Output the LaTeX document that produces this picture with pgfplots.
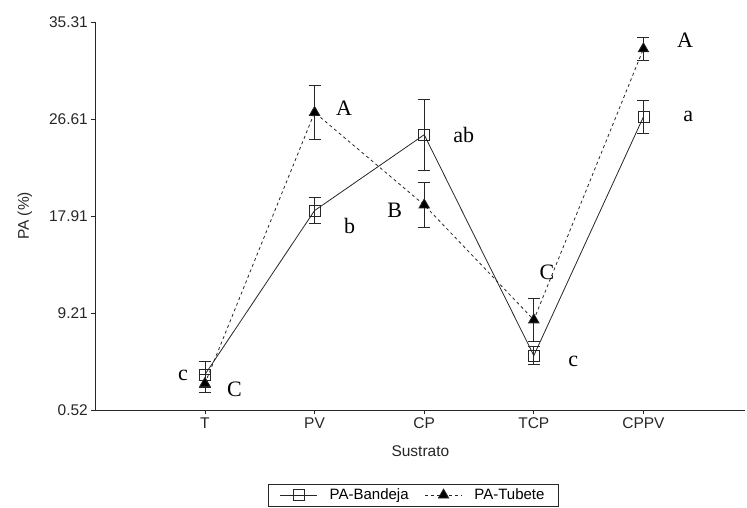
\documentclass[border=0pt]{standalone}
\usepackage{fontspec}
\setmainfont{Liberation Sans}
\newfontfamily\serif{Liberation Serif}
\usepackage{pgfplots}
\pgfplotsset{compat=1.18}
\begin{document}
\begin{tikzpicture}[x=1pt,y=1pt]
\path[use as bounding box] (0,0) rectangle (747,507);
\begin{axis}[
  at={(87,87)}, anchor=south west,
  scale only axis, width=650pt, height=388pt,
  xmin=-1, xmax=4.93, ymin=0.52, ymax=35.31,
  axis x line*=bottom, axis y line*=left,
  axis line style={-, line width=0.9pt, black!85},
  tick style={line width=0.8pt, black!85},
  tick align=outside, major tick length=4pt,
  xtick={0,1,2,3,4}, xticklabels={T,PV,CP,TCP,CPPV},
  ytick={0.52,9.21,17.91,26.61,35.31},
  yticklabels={0.52,9.21,17.91,26.61,35.31},
  ticklabel style={font=\fontsize{15.5}{17}\selectfont, text=black!85},
  xlabel={Sustrato}, ylabel={PA (\%)},
  label style={font=\fontsize{15.5}{17}\selectfont, text=black!85},
  xlabel style={yshift=-10pt},
  ylabel style={yshift=10pt},
  legend style={at={(0.489,-0.19)}, anchor=north, legend columns=2, draw=black!85,
    font=\fontsize{15}{17}\selectfont, inner xsep=12pt, inner ysep=3pt,
    /tikz/every odd column/.append style={column sep=10pt},
    /tikz/every even column/.append style={column sep=14pt}},
  legend image code/.code={\draw[mark repeat=2,mark phase=2,#1] plot coordinates {(0cm,0cm) (0.65cm,0cm) (1.3cm,0cm)};},
]
\addplot[black!85, line width=0.8pt, mark=square, mark size=5.5pt, mark options={solid, fill=white},
  error bars/.cd, y dir=both, y explicit,
  error bar style={line width=0.9pt, black!85},
  error mark options={rotate=90, mark size=6pt, line width=0.9pt, black!85}]
  coordinates {
   (0,3.7) +- (0,1.2)
   (1,18.4) +- (0,1.2)
   (2,25.2) +- (0,3.2)
   (3,5.4) +- (0,0.8)
   (4,26.8) +- (0,1.5)
  };
\addlegendentry{PA-Bandeja}
\addplot[black!85, line width=0.8pt, dashed, mark=triangle*, mark size=6pt, mark options={solid, fill=black},
  error bars/.cd, y dir=both, y explicit,
  error bar style={line width=0.9pt, black!85, solid},
  error mark options={rotate=90, mark size=6pt, line width=0.9pt, black!85, solid}]
  coordinates {
   (0,2.9) +- (0,0.8)
   (1,27.2) +- (0,2.4)
   (2,18.9) +- (0,2.0)
   (3,8.6) +- (0,1.9)
   (4,32.9) +- (0,1.0)
  };
\addlegendentry{PA-Tubete}
\begin{scope}[every node/.style={font=\serif\fontsize{22}{24}\selectfont}]
\node at (axis cs:-0.2,3.6) {c};
\node at (axis cs:0.27,2.4) {C};
\node at (axis cs:1.27,27.6) {A};
\node at (axis cs:1.32,17.0) {b};
\node at (axis cs:2.36,25.2) {ab};
\node at (axis cs:1.73,18.4) {B};
\node at (axis cs:3.12,12.9) {C};
\node at (axis cs:3.36,4.9) {c};
\node at (axis cs:4.38,33.7) {A};
\node at (axis cs:4.41,26.8) {a};
\end{scope}
\end{axis}
\end{tikzpicture}
\end{document}
